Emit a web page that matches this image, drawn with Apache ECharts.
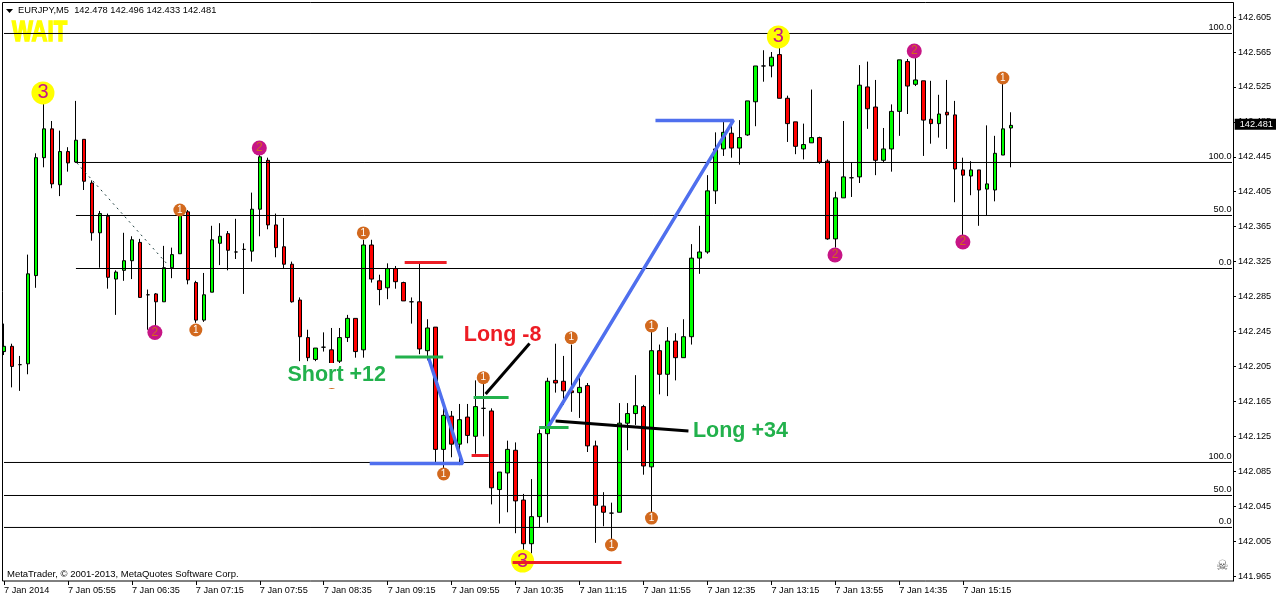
<!DOCTYPE html>
<html>
<head>
<meta charset="utf-8">
<title>EURJPY,M5</title>
<script src="https://cdn.jsdelivr.net/npm/echarts@6/dist/echarts.min.js"></script>
<style>
  html, body { margin: 0; padding: 0; background: #fff; }
  #main { width: 1276px; height: 599px; }
</style>
</head>
<body>
<div id="main"></div>
<script>
// one row per 5 minute bar: open, close, low, high
var candles = [
  [142.222,142.228,142.218,142.254],[142.228,142.205,142.181,142.231],[142.207,142.207,142.177,142.217],[142.208,142.311,142.196,142.333],
  [142.309,142.444,142.295,142.449],[142.444,142.477,142.433,142.507],[142.477,142.414,142.409,142.486],[142.413,142.451,142.400,142.475],
  [142.451,142.438,142.428,142.456],[142.439,142.464,142.438,142.509],[142.465,142.417,142.407,142.465],[142.415,142.358,142.349,142.418],
  [142.358,142.380,142.318,142.383],[142.377,142.307,142.294,142.380],[142.305,142.313,142.264,142.315],[142.315,142.326,142.303,142.358],
  [142.326,142.350,142.305,142.354],[142.347,142.284,142.284,142.351],[142.287,142.287,142.247,142.293],[142.288,142.279,142.250,142.289],
  [142.279,142.318,142.279,142.343],[142.318,142.333,142.306,142.341],[142.334,142.380,142.334,142.384],[142.382,142.304,142.299,142.384],
  [142.301,142.258,142.255,142.303],[142.258,142.287,142.256,142.312],[142.290,142.350,142.290,142.366],[142.346,142.354,142.321,142.369],
  [142.357,142.338,142.315,142.360],[142.336,142.336,142.328,142.374],[142.339,142.339,142.288,142.346],[142.337,142.385,142.325,142.404],
  [142.385,142.445,142.354,142.448],[142.441,142.367,142.362,142.444],[142.367,142.341,142.330,142.380],[142.342,142.322,142.317,142.375],
  [142.322,142.279,142.278,142.325],[142.281,142.239,142.211,142.284],[142.238,142.215,142.211,142.247],[142.213,142.226,142.211,142.226],
  [142.227,142.227,142.222,142.244],[142.224,142.208,142.205,142.249],[142.211,142.238,142.208,142.249],[142.238,142.260,142.233,142.264],
  [142.260,142.222,142.215,142.260],[142.224,142.344,142.215,142.350],[142.344,142.305,142.301,142.350],[142.303,142.293,142.275,142.310],
  [142.295,142.317,142.282,142.323],[142.317,142.302,142.294,142.320],[142.301,142.280,142.280,142.302],[142.279,142.279,142.254,142.284],
  [142.279,142.225,142.219,142.325],[142.223,142.249,142.212,142.259],[142.250,142.110,142.093,142.250],[142.110,142.149,142.084,142.167],
  [142.148,142.116,142.101,142.154],[142.116,142.144,142.092,142.162],[142.147,142.126,142.117,142.162],[142.125,142.159,142.105,142.189],
  [142.157,142.157,142.125,142.186],[142.154,142.066,142.047,142.157],[142.064,142.084,142.025,142.084],[142.083,142.110,142.038,142.120],
  [142.109,142.051,142.014,142.118],[142.052,142.002,141.995,142.059],[142.002,142.033,141.991,142.076],[142.033,142.128,142.021,142.133],
  [142.128,142.188,142.026,142.192],[142.189,142.186,142.175,142.231],[142.188,142.177,142.161,142.217],[142.177,142.175,142.153,142.230],
  [142.175,142.181,142.146,142.193],[142.183,142.114,142.107,142.186],[142.114,142.046,142.003,142.120],[142.045,142.038,142.022,142.061],
  [142.037,142.037,142.003,142.049],[142.038,142.140,142.038,142.163],[142.140,142.151,142.109,142.163],[142.151,142.160,142.138,142.195],
  [142.159,142.091,142.081,142.161],[142.090,142.223,142.038,142.247],[142.223,142.196,142.173,142.230],[142.196,142.234,142.171,142.250],
  [142.234,142.215,142.189,142.243],[142.215,142.239,142.215,142.259],[142.239,142.329,142.230,142.345],[142.329,142.336,142.311,142.366],
  [142.336,142.406,142.334,142.424],[142.406,142.454,142.391,142.473],[142.454,142.473,142.446,142.485],[142.472,142.455,142.444,142.485],
  [142.455,142.467,142.436,142.487],[142.470,142.509,142.469,142.509],[142.508,142.549,142.480,142.549],[142.549,142.549,142.531,142.567],
  [142.549,142.559,142.536,142.565],[142.562,142.512,142.512,142.571],[142.512,142.483,142.462,142.515],[142.485,142.457,142.448,142.485],
  [142.454,142.459,142.442,142.483],[142.461,142.467,142.461,142.522],[142.467,142.439,142.437,142.468],[142.440,142.351,142.350,142.442],
  [142.351,142.398,142.341,142.405],[142.398,142.422,142.398,142.486],[142.421,142.421,142.399,142.439],[142.422,142.527,142.415,142.550],
  [142.525,142.500,142.477,142.554],[142.502,142.441,142.424,142.533],[142.441,142.454,142.439,142.478],[142.454,142.497,142.428,142.505],
  [142.497,142.556,142.469,142.556],[142.554,142.526,142.494,142.557],[142.528,142.533,142.526,142.558],[142.532,142.487,142.446,142.532],
  [142.488,142.483,142.460,142.532],[142.483,142.494,142.467,142.516],[142.496,142.493,142.454,142.533],[142.493,142.431,142.393,142.509],
  [142.430,142.424,142.353,142.444],[142.423,142.430,142.401,142.440],[142.430,142.407,142.366,142.430],[142.408,142.414,142.378,142.481],
  [142.407,142.449,142.394,142.469],[142.447,142.477,142.447,142.531],[142.478,142.481,142.433,142.496]
];

var timeLabels = ['7 Jan 2014', '7 Jan 05:55', '7 Jan 06:35', '7 Jan 07:15', '7 Jan 07:55', '7 Jan 08:35', '7 Jan 09:15', '7 Jan 09:55',
  '7 Jan 10:35', '7 Jan 11:15', '7 Jan 11:55', '7 Jan 12:35', '7 Jan 13:15', '7 Jan 13:55', '7 Jan 14:35', '7 Jan 15:15'];
var priceTicks = [142.605, 142.565, 142.525, 142.485, 142.445, 142.405, 142.365, 142.325, 142.285, 142.245, 142.205, 142.165, 142.125,
  142.085, 142.045, 142.005, 141.965];
var lastPrice = 142.481;

// fibo levels: price, first bar, text at the right end
var levelPrices = [142.5862, 142.4385, 142.3778, 142.3171, 142.0950, 142.0572, 142.0206];
var levelStarts = [0, 9, 9, 9, 0, 0, 0];
var levelTexts = ['100.0', '100.0', '50.0', '0.0', '100.0', '50.0', '0.0'];

// hand drawn marks, [bar, price]
var yellowDots = [[4.875, 142.5181], [96.875, 142.5822], [64.875, 141.9822]];
var magentaDots = [[31.94, 142.4551], [18.875, 142.2438], [103.96, 142.3326], [119.96, 142.3474], [113.875, 142.5661]];
var orangeDots = [[22, 142.3841], [24, 142.2467], [44.96, 142.3578], [59.96, 142.1921], [70.96, 142.2379], [81, 142.2513],
  [55, 142.0818], [76, 142.0005], [81, 142.0314], [124.96, 142.5352], [41, 142.1866]];

var blueLines = [
  [[45.75, 142.0938], [57.375, 142.0938], [53.125, 142.2146]],
  [[81.5, 142.4866], [91.25, 142.4866], [68, 142.1345]]
];
var redLines = [
  [[50.125, 142.3240], [55.375, 142.3240]],
  [[58.5, 142.1030], [60.625, 142.1030]],
  [[63.625, 141.9805], [77.25, 141.9805]]
];
var greenLines = [
  [[48.94, 142.2158], [54.94, 142.2158]],
  [[58.75, 142.1694], [63.125, 142.1694]],
  [[66.94, 142.1351], [70.625, 142.1351]]
];
var blackLines = [
  [[60.25, 142.1734], [65.75, 142.2312]],
  [[69, 142.1425], [85.625, 142.1310]]
];
var dashedLine = [[9.125, 142.4379], [20.625, 142.3200]];

var notes = [
  { text: 'Short +12', color: '#22b14c', at: [41.625, 142.1957], box: '#fff' },
  { text: 'Long -8', color: '#ed1c24', at: [62.375, 142.2421], box: 'transparent' },
  { text: 'Long +34', color: '#22b14c', at: [92.125, 142.1316], box: 'transparent' }
];

var uiFont = '"Liberation Sans", sans-serif';
var smallSize = 9.2;
var barCount = 155;
var levelEnd = 153.625;
var priceMin = 141.9593;
var priceMax = 142.6211;

var categories = [];
for (var i = 0; i < barCount; i++) {
  categories.push(i % 8 === 0 && timeLabels[i / 8] ? timeLabels[i / 8] : '');
}

function drawnLines(list, color, width, name) {
  return list.map(function (pts) {
    return {
      name: name,
      type: 'line',
      xAxisIndex: 1,
      yAxisIndex: 0,
      data: pts,
      z: 5,
      symbol: 'none',
      silent: true,
      lineStyle: { color: color, width: width }
    };
  });
}

function dotSeries(pts, color, size, digit, digitColor, digitSize) {
  return {
    type: 'scatter',
    xAxisIndex: 1,
    yAxisIndex: 0,
    data: pts,
    z: 4,
    symbol: 'circle',
    symbolSize: size,
    silent: true,
    itemStyle: { color: color, opacity: 1 },
    label: {
      show: true,
      position: 'inside',
      formatter: digit,
      color: digitColor,
      fontFamily: uiFont,
      fontSize: digitSize
    }
  };
}

var series = [{
  name: 'EURJPY',
  type: 'candlestick',
  xAxisIndex: 0,
  yAxisIndex: 0,
  data: candles,
  barWidth: 4,
  z: 2,
  itemStyle: {
    color: '#00ff00',
    color0: '#ff0000',
    borderColor: '#000',
    borderColor0: '#000',
    borderColorDoji: '#000',
    borderWidth: 1
  }
}];

levelPrices.forEach(function (price, k) {
  series.push({
    type: 'line',
    xAxisIndex: 1,
    yAxisIndex: 0,
    data: [[levelStarts[k], price], [levelEnd, price]],
    z: 3,
    symbol: 'none',
    silent: true,
    lineStyle: { color: '#000', width: 1 }
  });
  series.push({
    type: 'scatter',
    xAxisIndex: 1,
    yAxisIndex: 0,
    data: [[levelEnd, price]],
    z: 3,
    symbolSize: 1,
    silent: true,
    itemStyle: { color: 'transparent', opacity: 1 },
    label: {
      show: true,
      position: 'left',
      distance: 0,
      offset: [0, -6],
      formatter: levelTexts[k],
      color: '#000',
      fontFamily: uiFont,
      fontSize: smallSize
    }
  });
});

series.push(dotSeries(yellowDots, '#ffff00', 23, '3', '#c71585', 20));
series.push(dotSeries(magentaDots, '#c71585', 15, '2', '#d2691e', 12));
series.push(dotSeries(orangeDots, '#d2691e', 13, '1', '#ffffff', 10));

series = series.concat(drawnLines(blueLines, '#4f6fee', 3.5, 'blue'));
series = series.concat(drawnLines(redLines, '#ed1c24', 3, 'red'));
series = series.concat(drawnLines(greenLines, '#22b14c', 3, 'green'));
series = series.concat(drawnLines(blackLines, '#000', 3, 'black'));

series.push({
  type: 'line',
  xAxisIndex: 1,
  yAxisIndex: 0,
  data: dashedLine,
  z: 5,
  symbol: 'none',
  silent: true,
  lineStyle: { color: '#1f3f3f', width: 1, type: [2, 4] }
});

notes.forEach(function (n) {
  series.push({
    type: 'scatter',
    xAxisIndex: 1,
    yAxisIndex: 0,
    data: [n.at],
    z: 6,
    symbolSize: 1,
    silent: true,
    itemStyle: { color: 'transparent', opacity: 1 },
    label: {
      show: true,
      position: 'inside',
      formatter: n.text,
      color: n.color,
      backgroundColor: n.box,
      fontFamily: uiFont,
      fontWeight: 'bold',
      fontSize: 21.5,
      lineHeight: 25,
      padding: [0, 1],
      offset: [0, 1]
    }
  });
});

// price tag at the axis
series.push({
  type: 'scatter',
  xAxisIndex: 1,
  yAxisIndex: 0,
  data: [[153.9, lastPrice]],
  z: 7,
  symbolSize: 1,
  silent: true,
  itemStyle: { color: 'transparent', opacity: 1 },
  label: {
    show: true,
    position: 'right',
    distance: 0,
    offset: [0, -1],
    formatter: lastPrice.toFixed(3),
    color: '#fff',
    backgroundColor: '#000',
    fontFamily: uiFont,
    fontSize: smallSize,
    lineHeight: 11,
    padding: [0, 5, 0, 5]
  }
});

var option = {
  animation: false,
  backgroundColor: '#fff',
  // first grid is 8px per bar, second one only carries the price scale
  grid: [
    { left: -1, top: 3, width: 1240, height: 578 },
    { left: 3, top: 3, width: 1230, height: 578 }
  ],
  xAxis: [
    {
      type: 'category',
      gridIndex: 0,
      data: categories,
      boundaryGap: true,
      axisLine: { show: false },
      axisTick: {
        show: true,
        alignWithLabel: true,
        length: 4,
        lineStyle: { color: '#000' },
        interval: function (index, value) { return value !== ''; }
      },
      axisLabel: {
        interval: 7,
        align: 'left',
        margin: 5,
        color: '#000',
        fontFamily: uiFont,
        fontSize: smallSize,
        hideOverlap: false
      },
      splitLine: { show: false }
    },
    { type: 'value', gridIndex: 0, min: -0.5, max: 154.5, show: false, splitLine: { show: false } },
    { type: 'value', gridIndex: 1, min: 0, max: 1, show: false, splitLine: { show: false } }
  ],
  yAxis: [
    { type: 'value', gridIndex: 0, min: priceMin, max: priceMax, show: false, splitLine: { show: false } },
    {
      type: 'value',
      gridIndex: 1,
      position: 'right',
      min: priceMin,
      max: priceMax,
      splitLine: { show: false },
      axisLine: { show: true, onZero: false, lineStyle: { color: '#000' } },
      axisTick: {
        show: true,
        length: 3,
        lineStyle: { color: '#000' },
        customValues: priceTicks
      },
      axisLabel: {
        margin: 5,
        color: '#000',
        fontFamily: uiFont,
        fontSize: smallSize,
        customValues: priceTicks,
        formatter: function (v) { return v.toFixed(3); }
      }
    }
  ],
  graphic: [
    { type: 'text', z: 1, silent: true, x: 12, y: 18, scaleX: 0.76, style: { x: 0, y: 0, text: 'WAIT', fill: '#ffff00', stroke: '#ffff00', lineWidth: 1.5,
      font: 'bold 29px "Liberation Sans", sans-serif' } },
    { type: 'rect', z: 50, silent: true, shape: { x: 0, y: 0, width: 2, height: 599 }, style: { fill: '#fff' } },
    { type: 'rect', z: 51, silent: true, shape: { x: 2.5, y: 2.5, width: 1231, height: 578.5 }, style: { fill: 'none', stroke: '#000', lineWidth: 1 } },
    { type: 'polygon', z: 52, silent: true, shape: { points: [[6, 9], [13, 9], [9.5, 13]] }, style: { fill: '#000' } },
    { type: 'text', z: 52, silent: true, style: { x: 18, y: 6, text: 'EURJPY,M5  142.478 142.496 142.433 142.481', fill: '#000', font: '9.3px "Liberation Sans", sans-serif' } },
    { type: 'text', z: 52, silent: true, style: { x: 7, y: 569, text: 'MetaTrader, \u00a9 2001-2013, MetaQuotes Software Corp.', fill: '#000', font: '9.5px "Liberation Sans", sans-serif' } },
    { type: 'text', z: 52, silent: true, style: { x: 1216, y: 559, text: '\u2620', fill: '#555', font: '14px "DejaVu Sans", sans-serif' } }
  ],
  series: series
};

var chart = echarts.init(document.getElementById('main'), null, { renderer: 'canvas' });
chart.setOption(option);
</script>
</body>
</html>
